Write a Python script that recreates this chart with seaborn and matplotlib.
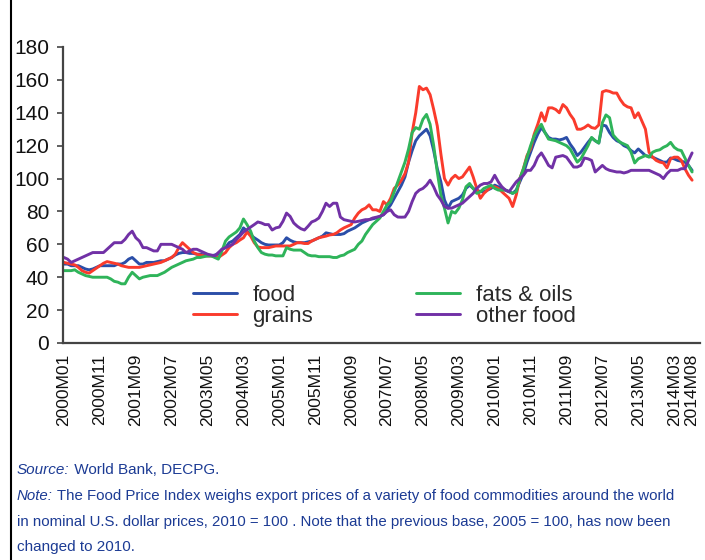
import numpy as np
import pandas as pd
import seaborn as sns
import matplotlib.pyplot as plt
from matplotlib.lines import Line2D

# monthly index values, 2010 = 100, 2000M01 .. 2014M08
food = [
    48, 48, 47, 47, 47, 46, 45, 44.5, 45, 46, 47, 47,
    47, 47, 47, 48, 48, 49, 51, 52, 50, 48, 48, 49,
    49, 49, 49.5, 50, 50, 51, 52, 53.5, 54.5, 55, 55, 54.5,
    54.5, 54, 54, 53.5, 53, 53, 53.5, 54, 57, 58, 61, 62,
    64, 66, 70, 68, 65.7, 64, 62.6, 61, 60, 59.6, 59.6, 59.6,
    59.6, 61, 64, 62.5, 61.5, 61, 61, 61, 61.5, 62, 63, 64,
    65, 67, 66.5, 66, 66, 66, 66.5, 68, 69, 70, 71.5, 73,
    74, 75, 75.5, 76, 77, 78, 81, 84, 88, 92, 96, 101,
    110, 117, 123, 126, 128, 130, 126, 117, 106, 98, 87, 82,
    86, 87, 88, 90, 94, 96, 94, 93, 92, 92, 93, 94,
    96, 95, 94, 93, 92, 91, 93, 98, 103, 110, 116, 122,
    127, 131, 128, 125, 124, 124, 123.5, 124, 125, 121, 118, 114,
    116, 119, 122, 124.7, 123, 121.6, 132.6, 132, 128, 125, 123, 122,
    120, 119, 117, 115.6, 118, 116, 114, 113.5, 113, 112, 111, 110,
    110, 112.5, 112, 111, 110.5, 110, 108, 105,
]
grains = [
    49, 48.5, 48, 47.5, 46, 44, 43, 42.5, 44, 45.5, 47, 48.5,
    49.5, 49, 48.5, 48, 47, 46.5, 46, 46, 46, 46, 46.5, 47,
    47.5, 48, 48.5, 49, 50, 51, 52, 54, 58, 61, 59, 57,
    55, 54, 53.5, 53, 53, 53, 52.5, 52, 53.5, 55, 58, 60,
    61, 62.6, 64, 67.5, 65, 61, 58.4, 58, 58, 58, 58.5, 59,
    59, 59, 59, 59, 60, 61, 61, 60.5, 60.5, 62, 63, 64,
    64.5, 65, 65.7, 66, 67, 68.7, 70, 71, 72, 76, 79, 81,
    82, 84, 81, 81, 80, 86, 84, 88, 94, 96, 99, 103,
    110, 128, 140, 156, 154, 155, 151, 142, 132, 115, 100, 96,
    100, 102, 100, 101, 104, 107, 101, 94, 88, 91, 93, 95,
    95, 94, 92, 90, 88, 83, 90, 100, 106, 114, 118, 127,
    133, 140, 135, 143, 143, 142, 140, 145, 143, 139, 136, 130,
    130, 131, 132.6, 131, 130.5, 132.6, 152.7, 153.5, 153, 152, 152, 148,
    145, 143.6, 143, 137, 140, 135, 130, 116, 113, 111, 110, 109.5,
    106.5, 112, 113, 113, 111, 106, 102, 99,
]
fats_oils = [
    44, 44, 44, 44.5, 43, 42, 41, 40.5, 40, 40, 40, 40,
    40, 39, 37.5, 37, 36, 36, 40, 43, 41, 39, 40, 40.5,
    41, 41, 41, 42, 43, 44.5, 46, 47, 48, 49, 50, 50.5,
    51, 52, 52, 52.5, 53, 53, 52, 51, 56, 62, 64.5, 66,
    67.5, 70, 75.4, 72, 68, 62, 58, 55, 54, 53.5, 53.5, 53,
    53, 53, 58, 57, 56.5, 56.5, 56.5, 55, 53.5, 53, 53, 52.5,
    52.5, 52.5, 52.5, 52, 52, 53, 53.5, 55, 56, 57, 60, 62,
    66, 69, 72, 74, 76, 80, 84, 86, 92, 98, 104, 110,
    118, 128, 131, 130, 136, 139, 133, 120, 104, 90, 82, 73,
    80, 79, 82, 87, 95, 97, 94, 91, 92, 94, 95, 96,
    94, 93, 93, 93, 92, 91, 92, 100, 106, 113, 120, 126,
    130, 133, 128, 124, 123.5, 123, 122, 121, 120, 118, 114, 110,
    112, 116, 120, 125, 123, 121.6, 134, 138.7, 137, 126.5, 124, 122,
    121, 120, 116, 109.5, 112, 113, 114, 113, 116, 117, 117.5, 119,
    120, 122, 119, 117.5, 117, 112.5, 108, 104,
]
other_food = [
    52, 51, 49, 50, 51, 52, 53, 54, 55, 55, 55, 55,
    57, 59, 61, 61, 61, 63, 66, 68, 64, 62, 58, 58,
    57, 56, 56, 60, 60, 60, 60, 59, 58, 57, 55, 56,
    57, 57, 56, 55, 54, 53.5, 53, 55, 57, 58, 59, 60,
    63, 65, 67.5, 69, 70.5, 72, 73.6, 73, 72, 72, 68.7, 70,
    70.5, 74, 79, 77, 73, 71, 69.5, 68.7, 71, 73.6, 74.5, 76,
    80, 85, 83, 85, 85, 76.6, 75, 74.5, 74, 73.6, 74, 74.5,
    75, 75, 76, 76.5, 77, 78, 80, 81, 78, 76.6, 76.5, 76.6,
    80, 86, 91, 93, 94, 96, 99, 95, 90, 87, 83, 82,
    82, 83, 84, 85, 87, 89, 91, 94, 96, 97, 97, 98,
    102, 98, 95, 93, 92, 95, 98, 100, 102, 105, 105, 108,
    113, 115.6, 112, 108, 106.5, 113, 113.5, 114, 113, 110, 107, 107,
    108, 112.5, 112, 111, 104, 106, 108, 106, 105, 104.5, 104, 104,
    103.4, 104, 105, 105, 105, 105, 105, 105, 104, 103, 102, 100,
    103, 105, 105, 105, 106, 106, 111, 115.6,
]

series_names = ['food', 'grains', 'fats & oils', 'other food']
colors = {'food': '#2b4ea8', 'grains': '#fa3b2c',
          'fats & oils': '#2fb45a', 'other food': '#7131a6'}

months = [f'{y}M{m:02d}' for y in range(2000, 2015) for m in range(1, 13)][:176]
tick_pos = list(range(0, 171, 10)) + [175]
tick_labels = [months[i] for i in tick_pos]

rows = []
for name, vals in zip(series_names, [food, grains, fats_oils, other_food]):
    assert len(vals) == len(months), (name, len(vals))
    for i, v in enumerate(vals):
        rows.append({'t': i, 'month': months[i], 'series': name, 'value': v})
df = pd.DataFrame(rows)

sns.set_style('white')
plt.rcParams['font.family'] = ['Liberation Sans', 'DejaVu Sans']

fig = plt.figure(figsize=(7.05, 5.6), dpi=100)
ax = fig.add_axes([63 / 705, 217 / 560, (700 - 63) / 705, 296 / 560])

sns.lineplot(data=df, x='t', y='value', hue='series', hue_order=series_names,
             palette=colors, linewidth=2.1, ax=ax, sort=False)

ax.set_xlim(-0.28, 177.2)
ax.set_ylim(0, 180)
ax.set_yticks(range(0, 181, 20))
ax.set_xticks(tick_pos)
ax.set_xticklabels(tick_labels, rotation=90, fontsize=12.5, color='#111111')
ax.tick_params(axis='y', labelsize=15, length=4, width=1.2, color='#444444',
               pad=6, labelcolor='#111111', left=True)
ax.tick_params(axis='x', length=0, pad=8)
ax.set_xlabel('')
ax.set_ylabel('')
for side in ['top', 'right']:
    ax.spines[side].set_visible(False)
for side in ['left', 'bottom']:
    ax.spines[side].set_color('#444444')
    ax.spines[side].set_linewidth(1.6)

handles, labels = ax.get_legend_handles_labels()
leg = ax.legend(handles, labels, ncol=2, frameon=False, fontsize=16,
                loc='center', bbox_to_anchor=(384 / 705, 1 - 306 / 560),
                bbox_transform=fig.transFigure, handlelength=2.0,
                handletextpad=0.7, columnspacing=4.6, labelspacing=0.0)
for t in leg.get_texts():
    t.set_color('#2a2a2a')

# figure border on the left edge
fig.add_artist(Line2D([11 / 705, 11 / 705], [0, 1], transform=fig.transFigure,
                      color='black', linewidth=1.5))

note_color = '#1c3b94'
renderer = fig.canvas.get_renderer()


def footer_line(y_px, italic_part, rest, size=11):
    x0 = 17 / 705
    y = 1 - y_px / 560
    if italic_part:
        t = fig.text(x0, y, italic_part, fontsize=size, style='italic',
                     color=note_color, va='center')
        x0 += t.get_window_extent(renderer).width / 705
    fig.text(x0, y, rest, fontsize=size, color=note_color, va='center')


footer_line(470, 'Source:', ' World Bank, DECPG.')
footer_line(496, 'Note:', ' The Food Price Index weighs export prices of a variety '
            'of food commodities around the world', size=10.8)
footer_line(522, '', 'in nominal U.S. dollar prices, 2010 = 100 . Note that the '
            'previous base, 2005 = 100, has now been', size=10.8)
footer_line(547, '', 'changed to 2010.')

fig.savefig('out.png', dpi=100, facecolor='white')
